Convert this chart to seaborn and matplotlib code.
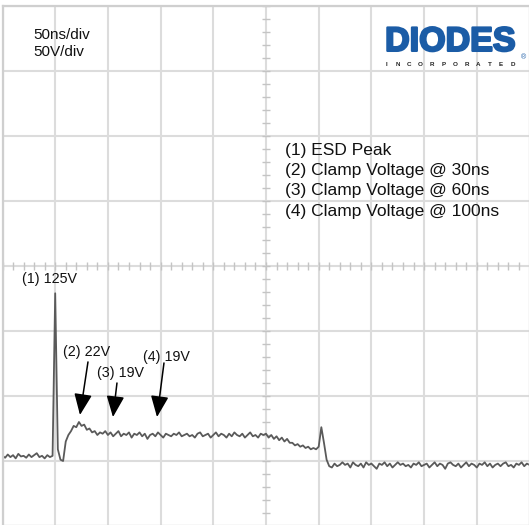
import matplotlib
matplotlib.use("Agg")
import matplotlib.pyplot as plt
import matplotlib.patheffects as pe
import seaborn as sns
import numpy as np
import pandas as pd

# scope settings
ns_per_div = 50
volt_per_div = 50

# sampled trace, 2.5 ns step (V)
time_ns = np.arange(0, 500.1, 2.5)
volts = [
    4, 2.5, 5, 3, 4.5, 2, 5.5, 3.5, 4, 2.5,
    5, 3, 4.5, 6, 3, 4, 2, 4.5, 3, 4,
    129, 9, 1, 0, 15, 20, 23, 27, 26, 30,
    27, 28, 24, 25, 22, 23, 20, 22, 21, 23,
    20, 22, 19, 21, 23, 19, 21, 20, 22, 18,
    21, 20, 22, 19, 21, 17, 20, 21, 19, 22,
    20, 18, 21, 20, 19, 21, 20, 22, 19, 20,
    21, 19, 20, 18, 21, 22, 19, 20, 21, 18,
    20, 22, 19, 21, 20, 18, 21, 19, 22, 20,
    19, 21, 18, 20, 22, 19, 20, 18, 21, 20,
    21, 18, 20, 17, 19, 16, 18, 15, 17, 14,
    14, 12, 13, 11, 12, 10, 11, 9, 10, 9,
    11, 26, 14, 1, -4, -5, -2, -4, -3, -1,
    -3, -2, -5, -1, -3, -4, -2, -5, -1, -3,
    -2, -4, -6, -2, -3, -1, -4, -2, -5, -3,
    -1, -3, -2, -4, -3, -5, -2, -3, -1, -4,
    -3, -2, -5, -3, -1, -4, -2, -3, -6, -2,
    -1, -3, -4, -2, -5, -3, -1, -4, -2, -3,
    -5, -2, -3, -1, -4, -2, -5, -3, -2, -4,
    -2, -1, -4, -3, -5, -2, -3, -1, -4, -2,
    -3,
]

# labels on the trace
point_labels = ["(1) 125V", "(2) 22V", "(3) 19V", "(4) 19V"]
label_t = [18.5, 57.4, 89.6, 133.3]
label_v = [140, 84, 67.6, 80]
# arrows (tail -> tip) for points 2..4
arrow_tail = [(81.1, 76.2), (108.6, 60.0), (153.2, 75.4)]
arrow_tip = [(73.5, 35.4), (104.8, 33.8), (146.6, 33.8)]

legend_lines = ["(1) ESD Peak", "(2) Clamp Voltage @ 30ns",
                "(3) Clamp Voltage @ 60ns", "(4) Clamp Voltage @ 100ns"]
scale_text = ["50ns/div", "50V/div"]

df = pd.DataFrame({"t": time_ns, "v": volts})

sns.set_style("white")
plt.rcParams["font.family"] = ["Liberation Sans", "DejaVu Sans"]

fig = plt.figure(figsize=(5.29, 5.25), dpi=100)
ax = fig.add_axes([2.5 / 529, -1 / 525, 527 / 529, 520 / 525])

ax.set_xlim(0, 10 * ns_per_div)
ax.set_ylim(-volt_per_div, 7 * volt_per_div)
ax.set_xticks(np.arange(0, 10 * ns_per_div + 1, ns_per_div))
ax.set_yticks(np.arange(-volt_per_div, 7 * volt_per_div + 1, volt_per_div))
ax.grid(True, color="#dcdcdc", linewidth=1.5)
ax.tick_params(length=0, labelbottom=False, labelleft=False)
for side, sp in ax.spines.items():
    sp.set_color("#cfcfcf")
    sp.set_linewidth(1.6)

# graticule ticks on the centre lines
t_mid = 5 * ns_per_div
v_mid = 3 * volt_per_div
ax.plot(np.arange(0, 500.1, ns_per_div / 5), [v_mid] * 51, ls="none",
        marker="|", ms=6, color="#c4c4c4", mew=1)
ax.plot([t_mid] * 41, np.arange(-50, 350.1, volt_per_div / 5), ls="none",
        marker="_", ms=6, color="#c4c4c4", mew=1)

sns.lineplot(data=df, x="t", y="v", ax=ax, color="#5a5a5a", linewidth=1.3)
ax.set_xlabel("")
ax.set_ylabel("")

# text
ax.text(29, 327.6, scale_text[0], fontsize=11, va="center", ha="left", color="#111111")
ax.text(29, 314.5, scale_text[1], fontsize=11, va="center", ha="left", color="#111111")

for i, line in enumerate(legend_lines):
    ax.text(268, 238.5 - i * 15.4, line, fontsize=12.5, va="center", ha="left",
            color="#111111")

for lab, lt, lv in zip(point_labels, label_t, label_v):
    ax.text(lt, lv, lab, fontsize=10.3, va="center", ha="left", color="#111111")

for tail, tip in zip(arrow_tail, arrow_tip):
    ax.annotate("", xy=tip, xytext=tail,
                arrowprops=dict(arrowstyle="-|>,head_length=1.3,head_width=0.55",
                                color="black", lw=1.1, shrinkA=0, shrinkB=0))

# logo
ax.text(363, 322, "DIODES", fontsize=24.5, fontweight="bold", color="#1b5ca6",
        va="center", ha="left",
        path_effects=[pe.withStroke(linewidth=1.6, foreground="#1b5ca6")])
for k, ch in enumerate("INCORPORATED"):
    ax.text(364 + k * 10.9, 305, ch, fontsize=4.5, fontweight="bold",
            color="#222222", va="center", ha="center")
ax.text(494, 310, "\u00ae", fontsize=5, color="#1b5ca6", va="center", ha="center")

fig.savefig("out.png", dpi=100)
